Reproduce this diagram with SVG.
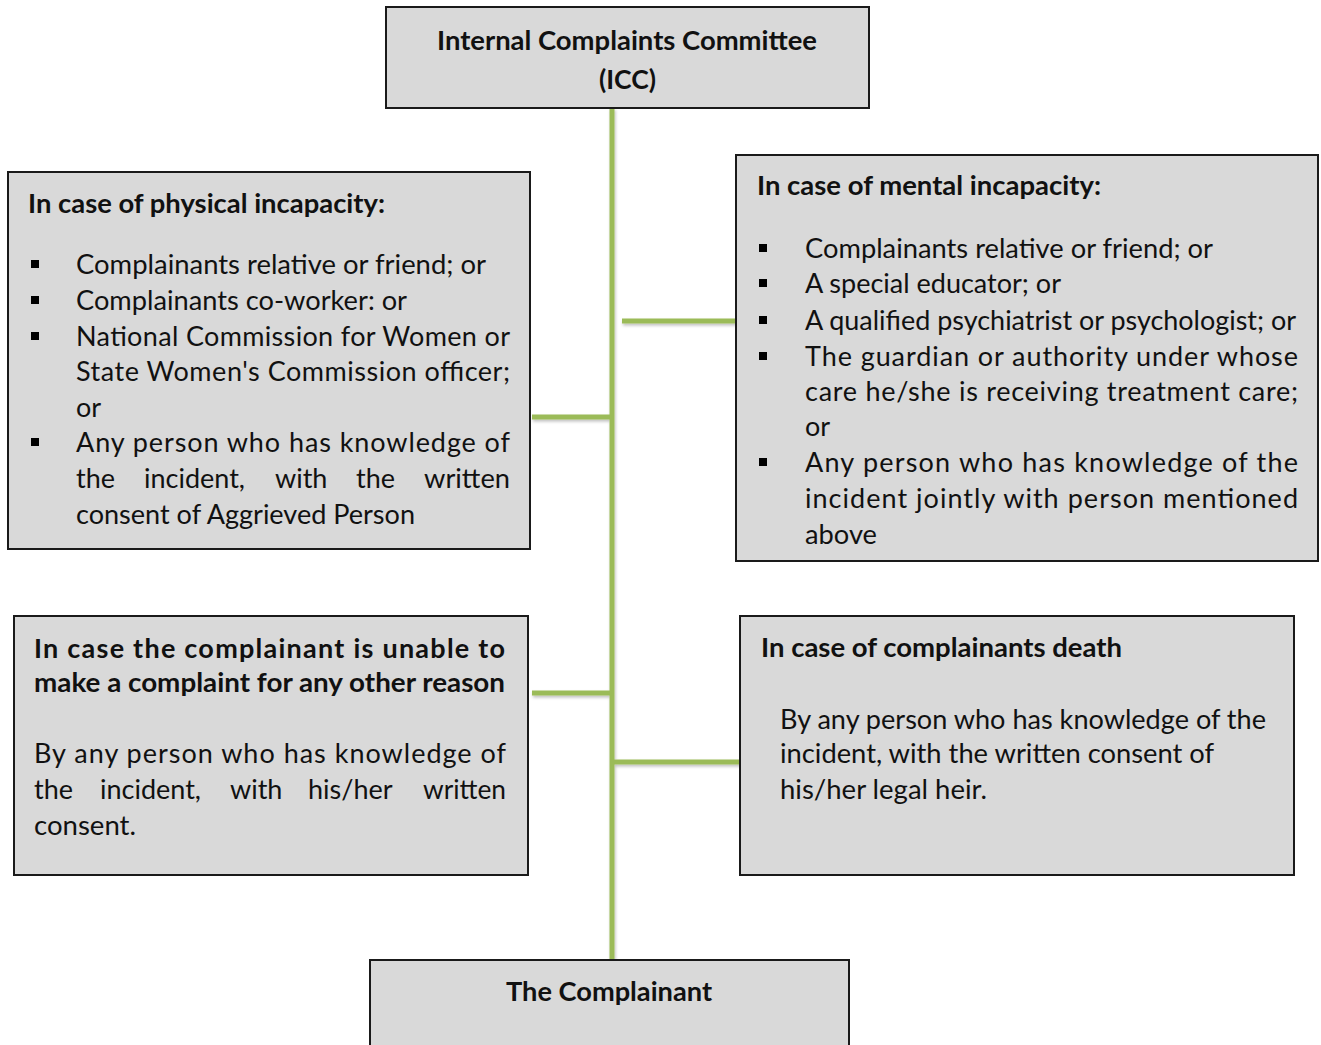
<svg xmlns="http://www.w3.org/2000/svg" width="1321" height="1045" viewBox="0 0 1321 1045">
<style>
.box{fill:#d9d9d9;stroke:#1a1a1a;stroke-width:2}
.t{font-family:Lato,"Open Sans","Liberation Sans",sans-serif;font-size:27px;fill:#111}
.b{font-weight:bold}
.con{stroke:#9bbb59;stroke-width:5;fill:none}
.bl{fill:#000}
</style>
<defs>
<filter id="sh" x="-5%" y="-5%" width="110%" height="110%">
<feDropShadow dx="1" dy="2" stdDeviation="1.5" flood-color="#000" flood-opacity="0.25"/>
</filter>
</defs>
<g id="connectors" filter="url(#sh)">
<line class="con" x1="612" y1="108" x2="612" y2="960"/>
<line class="con" x1="532" y1="417" x2="610" y2="417"/>
<line class="con" x1="622" y1="321" x2="736" y2="321"/>
<line class="con" x1="532" y1="693" x2="610" y2="693"/>
<line class="con" x1="612" y1="762" x2="743" y2="762"/>
</g>
<g id="icc">
<rect class="box" x="386" y="7" width="483" height="101"/>
<text class="t b" x="437" y="50" textLength="380" lengthAdjust="spacingAndGlyphs">Internal Complaints Committee</text>
<text class="t b" x="599" y="89" textLength="57" lengthAdjust="spacingAndGlyphs">(ICC)</text>
</g>
<g id="physical">
<rect class="box" x="8" y="172" width="522" height="377"/>
<text class="t b" x="28" y="213" textLength="357" lengthAdjust="spacingAndGlyphs">In case of physical incapacity:</text>
<rect class="bl" x="31" y="260" width="8" height="8"/>
<rect class="bl" x="31" y="296" width="8" height="8"/>
<rect class="bl" x="31" y="332" width="8" height="8"/>
<rect class="bl" x="31" y="438" width="8" height="8"/>
<text class="t" x="76" y="274" textLength="410" lengthAdjust="spacingAndGlyphs">Complainants relative or friend; or</text>
<text class="t" x="76" y="310" textLength="331" lengthAdjust="spacingAndGlyphs">Complainants co-worker: or</text>
<text class="t" x="76" y="346" textLength="434" lengthAdjust="spacing">National Commission for Women or</text>
<text class="t" x="76" y="381" textLength="434" lengthAdjust="spacing">State Women's Commission officer;</text>
<text class="t" x="76" y="417">or</text>
<text class="t" x="76" y="452" textLength="434" lengthAdjust="spacing">Any person who has knowledge of</text>
<text class="t" y="488"><tspan x="76">the</tspan> <tspan x="144">incident,</tspan> <tspan x="275">with</tspan> <tspan x="356">the</tspan> <tspan x="424" textLength="86" lengthAdjust="spacingAndGlyphs">written</tspan></text>
<text class="t" x="76" y="524" textLength="339" lengthAdjust="spacingAndGlyphs">consent of Aggrieved Person</text>
</g>
<g id="mental">
<rect class="box" x="736" y="155" width="582" height="406"/>
<text class="t b" x="757" y="195" textLength="344" lengthAdjust="spacingAndGlyphs">In case of mental incapacity:</text>
<rect class="bl" x="759" y="244" width="8" height="8"/>
<rect class="bl" x="759" y="279" width="8" height="8"/>
<rect class="bl" x="759" y="316" width="8" height="8"/>
<rect class="bl" x="759" y="352" width="8" height="8"/>
<rect class="bl" x="759" y="458" width="8" height="8"/>
<text class="t" x="805" y="258" textLength="408" lengthAdjust="spacingAndGlyphs">Complainants relative or friend; or</text>
<text class="t" x="805" y="293" textLength="256" lengthAdjust="spacingAndGlyphs">A special educator; or</text>
<text class="t" x="805" y="330" textLength="491" lengthAdjust="spacingAndGlyphs">A qualified psychiatrist or psychologist; or</text>
<text class="t" x="805" y="366" textLength="493" lengthAdjust="spacing">The guardian or authority under whose</text>
<text class="t" x="805" y="401" textLength="493" lengthAdjust="spacing">care he/she is receiving treatment care;</text>
<text class="t" x="805" y="436">or</text>
<text class="t" x="805" y="472" textLength="493" lengthAdjust="spacing">Any person who has knowledge of the</text>
<text class="t" x="805" y="508" textLength="493" lengthAdjust="spacing">incident jointly with person mentioned</text>
<text class="t" x="805" y="544" textLength="72" lengthAdjust="spacingAndGlyphs">above</text>
</g>
<g id="other">
<rect class="box" x="14" y="616" width="514" height="259"/>
<text class="t b" x="34" y="658" textLength="471" lengthAdjust="spacing">In case the complainant is unable to</text>
<text class="t b" x="34" y="692" textLength="471" lengthAdjust="spacingAndGlyphs">make a complaint for any other reason</text>
<text class="t" x="34" y="763" textLength="472" lengthAdjust="spacing">By any person who has knowledge of</text>
<text class="t" y="799"><tspan x="34">the</tspan> <tspan x="100">incident,</tspan> <tspan x="230">with</tspan> <tspan x="308">his/her</tspan> <tspan x="423" textLength="83" lengthAdjust="spacingAndGlyphs">written</tspan></text>
<text class="t" x="34" y="835" textLength="102" lengthAdjust="spacingAndGlyphs">consent.</text>
</g>
<g id="death">
<rect class="box" x="740" y="616" width="554" height="259"/>
<text class="t b" x="761" y="657" textLength="361" lengthAdjust="spacingAndGlyphs">In case of complainants death</text>
<text class="t" x="780" y="729" textLength="486" lengthAdjust="spacingAndGlyphs">By any person who has knowledge of the</text>
<text class="t" x="780" y="763" textLength="434" lengthAdjust="spacingAndGlyphs">incident, with the written consent of</text>
<text class="t" x="780" y="799" textLength="207" lengthAdjust="spacingAndGlyphs">his/her legal heir.</text>
</g>
<g id="complainant">
<rect class="box" x="370" y="960" width="479" height="95"/>
<text class="t b" x="506" y="1001" textLength="206" lengthAdjust="spacingAndGlyphs">The Complainant</text>
</g>
</svg>
